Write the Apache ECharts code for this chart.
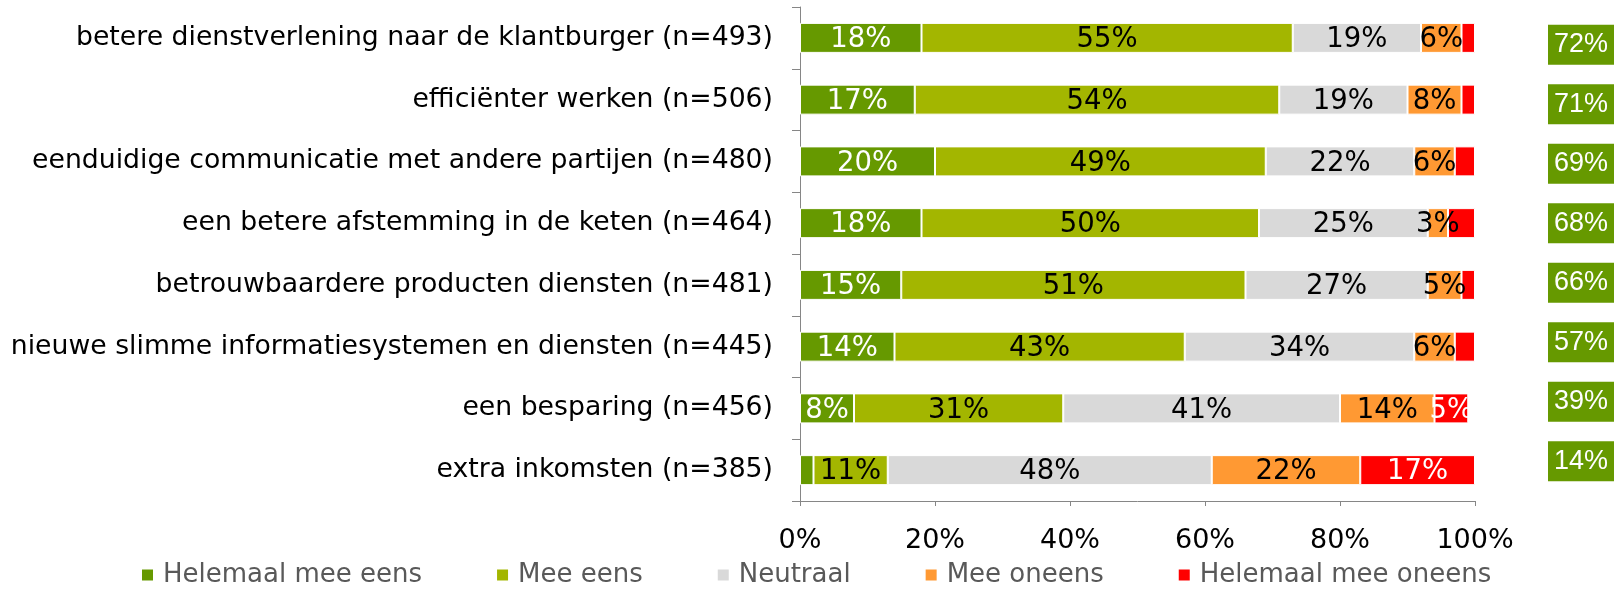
<!DOCTYPE html>
<html>
<head>
<meta charset="utf-8">
<script src="https://cdn.jsdelivr.net/npm/echarts@6/dist/echarts.min.js"></script>
<style>
  html, body { margin: 0; padding: 0; background: #fff; }
  #chart { width: 1620px; height: 590px; }
</style>
</head>
<body>
<div id="chart"></div>
<script>
// Survey statements, top to bottom
const categories = [
  'betere dienstverlening naar de klantburger (n=493)',
  'efficiënter werken (n=506)',
  'eenduidige communicatie met andere partijen (n=480)',
  'een betere afstemming in de keten (n=464)',
  'betrouwbaardere producten diensten (n=481)',
  'nieuwe slimme informatiesystemen en diensten (n=445)',
  'een besparing (n=456)',
  'extra inkomsten (n=385)'
];

// Answer shares per statement (percent)
const helemaalMeeEens   = [18, 17, 20, 18, 15, 14, 8, 2];
const meeEens           = [55, 54, 49, 50, 51, 43, 31, 11];
const neutraal          = [19, 19, 22, 25, 27, 34, 41, 48];
const meeOneens         = [6, 8, 6, 3, 5, 6, 14, 22];
const helemaalMeeOneens = [2, 2, 3, 4, 2, 3, 5, 17];

// Total agreement (helemaal mee eens + mee eens)
const totaalEens = [72, 71, 69, 68, 66, 57, 39, 14];

const seriesNames = ['Helemaal mee eens', 'Mee eens', 'Neutraal', 'Mee oneens', 'Helemaal mee oneens'];
const seriesData = [helemaalMeeEens, meeEens, neutraal, meeOneens, helemaalMeeOneens];
const seriesColors = ['#669900', '#A3B600', '#D9D9D9', '#FF9933', '#FF0000'];
const labelColors = ['#ffffff', '#000000', '#000000', '#000000', '#ffffff'];
// smallest share that still gets an in-bar label, per answer
const labelMin = [3, 3, 3, 3, 5];

const axisGray = '#868686';
const mainFont = 'DejaVu Sans';

const barSeries = seriesNames.map((name, i) => ({
  name: name,
  type: 'bar',
  stack: 'total',
  xAxisIndex: 0,
  yAxisIndex: 0,
  barWidth: 30,
  data: seriesData[i],
  itemStyle: { color: seriesColors[i], borderColor: '#ffffff', borderWidth: 1 },
  label: {
    show: true,
    position: 'inside',
    color: labelColors[i],
    fontFamily: mainFont,
    fontSize: 27.5,
    offset: [0, 2],
    formatter: p => (p.value >= labelMin[i] ? p.value + '%' : '')
  },
  emphasis: { disabled: true }
}));

const chart = echarts.init(document.getElementById('chart'), null, { renderer: 'canvas' });

chart.setOption({
  animation: false,
  backgroundColor: '#ffffff',
  grid: [
    { left: 800, right: 145, top: 7, bottom: 89 },
    { left: 1548, width: 66, top: 15, height: 476 }
  ],
  legend: {
    data: seriesNames,
    left: 140,
    top: 562,
    padding: 0,
    icon: 'rect',
    itemWidth: 13,
    itemHeight: 13,
    itemGap: 73,
    textStyle: {
      fontFamily: mainFont,
      fontSize: 26,
      color: '#595959',
      padding: [0, 0, 0, 4]
    }
  },
  xAxis: [
    {
      type: 'value',
      gridIndex: 0,
      min: 0,
      max: 100,
      interval: 20,
      axisLine: { show: true, lineStyle: { color: axisGray, width: 1 } },
      axisTick: { show: true, length: 5, lineStyle: { color: axisGray } },
      splitLine: { show: false },
      axisLabel: {
        margin: 26,
        fontFamily: mainFont,
        fontSize: 27,
        color: '#000000',
        formatter: v => v + '%'
      }
    },
    {
      type: 'value',
      gridIndex: 1,
      min: 0,
      max: 1,
      show: false
    }
  ],
  yAxis: [
    {
      type: 'category',
      gridIndex: 0,
      data: categories,
      inverse: true,
      axisLine: { show: true, lineStyle: { color: axisGray, width: 1 } },
      axisTick: { show: true, length: 8, lineStyle: { color: axisGray } },
      axisLabel: {
        margin: 27,
        fontFamily: mainFont,
        fontSize: 26.7,
        color: '#000000',
        padding: [4, 0, 0, 0]
      }
    },
    {
      type: 'category',
      gridIndex: 1,
      data: categories,
      inverse: true,
      show: false
    }
  ],
  series: barSeries.concat([{
    name: 'Totaal eens',
    type: 'scatter',
    xAxisIndex: 1,
    yAxisIndex: 1,
    symbol: 'rect',
    symbolSize: [66, 40],
    itemStyle: { color: '#669900', opacity: 1 },
    data: totaalEens.map((v, i) => [0.5, i, v]),
    label: {
      show: true,
      position: 'inside',
      color: '#ffffff',
      fontFamily: 'Liberation Sans',
      fontSize: 27,
      formatter: p => p.data[2] + '%'
    },
    emphasis: { disabled: true }
  }])
});
</script>
</body>
</html>
